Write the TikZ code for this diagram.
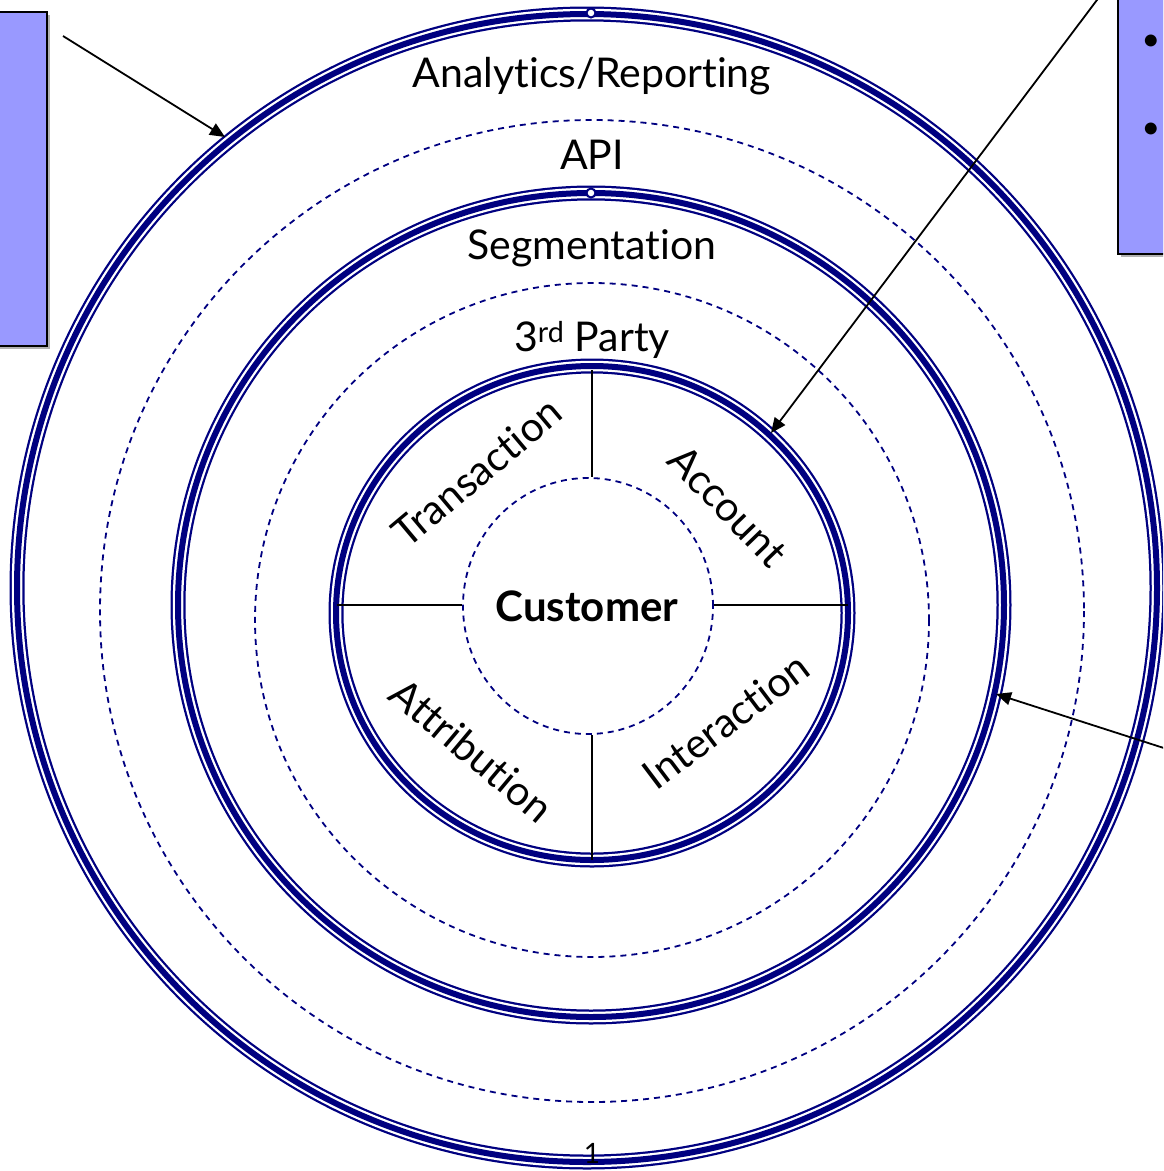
\documentclass[tikz,border=0pt]{standalone}
\usepackage{fontspec}
\setmainfont{Lato}[Ligatures={NoCommon}]
\usetikzlibrary{arrows.meta,shapes.geometric}
\definecolor{ringc}{RGB}{0,0,128}
\definecolor{boxc}{RGB}{153,153,255}
\begin{document}
\begin{tikzpicture}[x=1pt,y=-1pt,
  triplering/.style={draw=ringc, line width=15pt,
    postaction={draw=white, line width=10.5pt},
    postaction={draw=ringc, line width=6pt}},
  dashring/.style={draw=ringc, line width=1.8pt, dash pattern=on 6pt off 5pt},
  lbl/.style={font=\fontsize{41}{44}\selectfont, inner sep=0pt, anchor=center},
  divider/.style={draw=black, line width=1.6pt},
  callout/.style={draw=black, line width=1.8pt, -{Triangle[length=15pt,width=13pt]}},
  sidebox/.style={draw=black, line width=2pt, fill=boxc}]
\useasboundingbox (0,0) rectangle (1163,1171);
\begin{scope}
\clip (0,0) rectangle (1163,1171);
% side boxes
\fill[gray!60] (-5,15) rectangle (50,349);
\draw[sidebox] (-5,12) rectangle (47,346);
\fill[gray!60] (1121,-5) rectangle (1170,257);
\draw[sidebox] (1118,-5) rectangle (1170,254);
\node[font=\fontsize{32}{34}\selectfont, inner sep=0pt] (b1) at (1151,43) {\textbullet};
\node[font=\fontsize{32}{34}\selectfont, inner sep=0pt] (b2) at (1151,131) {\textbullet};
% rings
\path[triplering] (587,588) ellipse [x radius=570, y radius=574];
\path[dashring] (592,611) ellipse [x radius=492, y radius=491];
\path[triplering] (591,605) ellipse [x radius=413, y radius=412];
\path[dashring] (592,620) ellipse [x radius=337, y radius=337];
\path[triplering] (592,613) ellipse [x radius=256, y radius=247];
\draw[ringc, line width=2pt, fill=white] (591,13) circle [radius=4.5];
\draw[ringc, line width=2pt, fill=white] (591,193) circle [radius=4.5];
% center
\node[ellipse, dashring, minimum width=250pt, minimum height=256pt, inner sep=0pt]
  (cust) at (588,606) {};
\node[font=\fontsize{42}{45}\selectfont\bfseries, inner sep=0pt] (custl) at (587,606) {Customer};
\coordinate (rtop) at (592,370);
\coordinate (rbot) at (592,860);
\coordinate (rleft) at (337,605);
\coordinate (rright) at (848,605);
\draw[divider] (rtop) -- (cust.north -| rtop);
\draw[divider] (rbot) -- (cust.south -| rbot);
\draw[divider] (rleft) -- (cust.west |- rleft);
\draw[divider] (rright) -- (cust.east |- rright);
% labels
\node[lbl] (l1) at (592,76) {Analytics/Reporting};
\node[lbl] (l2) at (592,155) {API};
\node[lbl] (l3) at (592,248) {Segmentation};
\node[lbl] (l4) at (592,340) {3\textsuperscript{rd} Party};
\node[lbl, rotate=40] (l5) at (477,472) {Transaction};
\node[lbl, rotate=-46] (l6) at (728,506) {Account};
\node[lbl, rotate=-40] (l7) at (472,750) {Attribution};
\node[lbl, rotate=37] (l8) at (726,721) {Interaction};
\node[font=\fontsize{28}{30}\selectfont, inner sep=0pt] (one) at (592,1153) {1};
% callouts
\coordinate (s1) at (63,36);
\coordinate (t1) at (225,137);
\coordinate (s2) at (1100,-4);
\coordinate (t2) at (771,433);
\coordinate (s3) at (1170,750);
\coordinate (t3) at (996,694);
\draw[callout] (s1) -- (t1);
\draw[callout] (s2) -- (t2);
\draw[callout] (s3) -- (t3);
\end{scope}
\end{tikzpicture}
\end{document}
